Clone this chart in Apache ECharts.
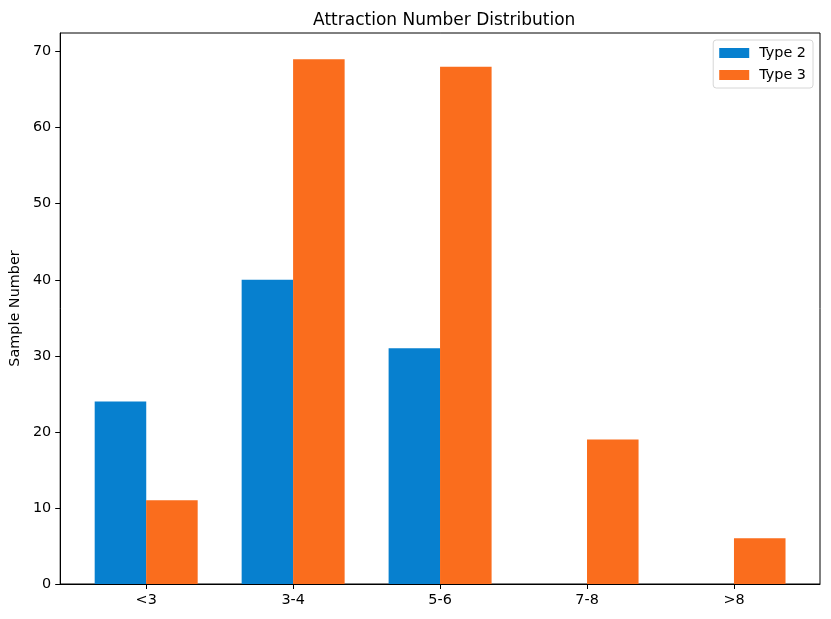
<!DOCTYPE html>
<html>
<head>
<meta charset="utf-8">
<script src="https://cdn.jsdelivr.net/npm/echarts@6/dist/echarts.min.js"></script>
<style>
html,body{margin:0;padding:0;background:#fff;}
#chart{width:831px;height:619px;}
</style>
</head>
<body>
<div id="chart"></div>
<script>
var categories = ['<3', '3-4', '5-6', '7-8', '>8'];
var type2 = [24, 40, 31, 0, 0];
var type3 = [11, 69, 68, 19, 6];
var yTicks = [0, 10, 20, 30, 40, 50, 60, 70];

var FONT = 'DejaVu Sans';
var barW = 0.35;
var xMin = -0.585, xMax = 4.585;
var gridLeft = 58.5, gridRight = 11, gridTop = 33, gridBottom = 35;
var plotW = 831 - gridLeft - gridRight;
var barPx = plotW * barW / (xMax - xMin);

var idx = categories.map(function (c, i) { return i; });
var d2 = type2.map(function (v, i) { return [i - barW / 2, v]; });
var d3 = type3.map(function (v, i) { return [i + barW / 2, v]; });

var chart = echarts.init(document.getElementById('chart'));
chart.setOption({
  animation: false,
  backgroundColor: '#fff',
  title: {
    text: 'Attraction Number Distribution',
    left: gridLeft + plotW / 2,
    textAlign: 'center',
    top: 7,
    textStyle: { fontFamily: FONT, fontSize: 17, fontWeight: 'normal', color: '#000' }
  },
  legend: {
    right: 18,
    top: 40,
    orient: 'vertical',
    itemWidth: 30,
    itemHeight: 10,
    itemGap: 8,
    padding: [6, 7, 6, 6],
    borderColor: '#d6d6d6',
    borderWidth: 1,
    borderRadius: 3,
    icon: 'rect',
    textStyle: { fontFamily: FONT, fontSize: 14.4, color: '#000', padding: [0, 0, 0, 5] },
    data: ['Type 2', 'Type 3']
  },
  grid: {
    left: gridLeft, right: gridRight, top: gridTop, bottom: gridBottom,
    show: true, borderColor: '#000', borderWidth: 1, containLabel: false
  },
  xAxis: {
    type: 'value',
    min: xMin,
    max: xMax,
    splitLine: { show: false },
    axisLine: { show: true, onZero: false, lineStyle: { color: '#000', width: 1 } },
    axisTick: { show: true, length: 5, lineStyle: { color: '#000' }, customValues: idx },
    axisLabel: {
      customValues: idx,
      margin: 9,
      fontFamily: FONT, fontSize: 14.4, color: '#000',
      formatter: function (v) { return categories[Math.round(v)]; }
    }
  },
  yAxis: {
    type: 'value',
    min: 0,
    max: 72.45,
    name: 'Sample Number',
    nameLocation: 'middle',
    nameGap: 36,
    nameTextStyle: { fontFamily: FONT, fontSize: 14.4, color: '#000' },
    splitLine: { show: false },
    axisLine: { show: true, onZero: false, lineStyle: { color: '#000', width: 1 } },
    axisTick: { show: true, length: 5, lineStyle: { color: '#000' }, customValues: yTicks },
    axisLabel: {
      customValues: yTicks,
      margin: 9,
      fontFamily: FONT, fontSize: 14.4, color: '#000'
    }
  },
  series: [
    {
      name: 'Type 2', type: 'bar', data: d2, barWidth: barPx, barGap: '-100%',
      itemStyle: { color: '#0780cf', borderWidth: 0 }
    },
    {
      name: 'Type 3', type: 'bar', data: d3, barWidth: barPx, barGap: '-100%',
      itemStyle: { color: '#fa6d1d', borderWidth: 0 }
    }
  ]
});
</script>
</body>
</html>
